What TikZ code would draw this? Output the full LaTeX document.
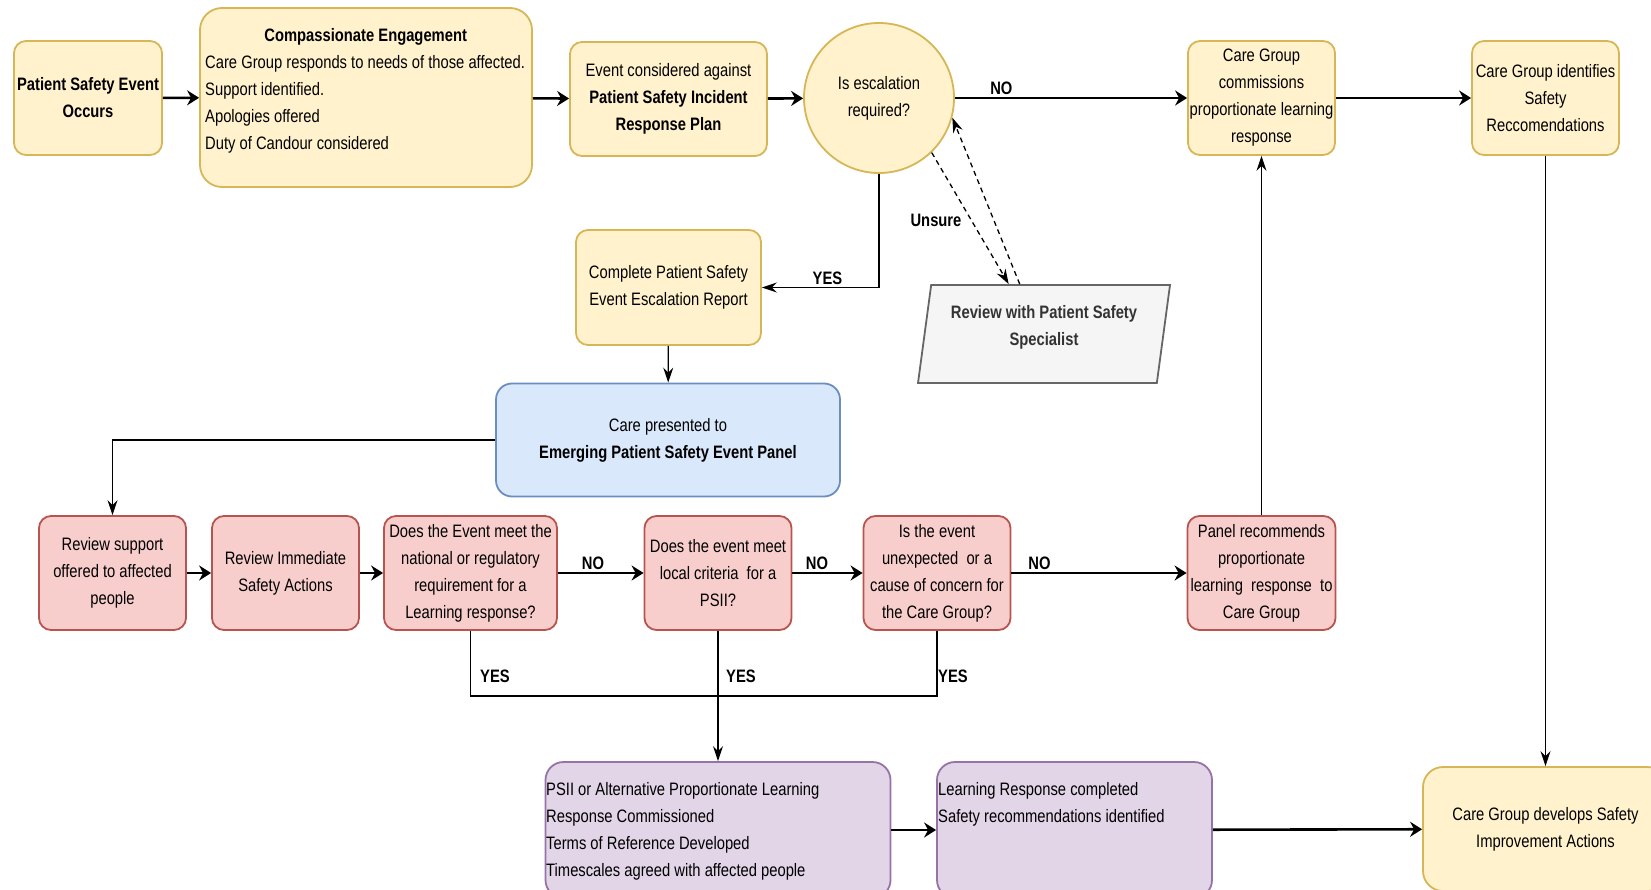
\documentclass[tikz,border=0pt]{standalone}
\usepackage{fontspec}
\setmainfont[FakeStretch=0.82]{Liberation Sans}
\usetikzlibrary{arrows.meta,shapes.geometric}
\definecolor{yfill}{HTML}{FFF2CC}
\definecolor{ydraw}{HTML}{D6B656}
\definecolor{rfill}{HTML}{F8CECC}
\definecolor{rdraw}{HTML}{B85450}
\definecolor{bfill}{HTML}{DAE8FC}
\definecolor{bdraw}{HTML}{6C8EBF}
\definecolor{pfill}{HTML}{E1D5E7}
\definecolor{pdraw}{HTML}{9673A6}
\definecolor{gfill}{HTML}{F5F5F5}
\definecolor{gdraw}{HTML}{666666}
\definecolor{gtext}{HTML}{333333}

\begin{document}
\begin{tikzpicture}[x=1pt, y=-1pt, font=\fontsize{18pt}{27pt}\selectfont,
	box/.style={draw, rounded corners=12pt, line width=1.8pt, align=center, inner sep=0pt},
	yellowbox/.style={box, draw=ydraw, fill=yfill},
	redbox/.style={box, draw=rdraw, fill=rfill, minimum width=147pt, minimum height=114pt},
	purplebox/.style={box, draw=pdraw, fill=pfill, rounded corners=18pt, minimum height=136pt},
	boxtext/.style={anchor=base west, align=flush left, inner sep=0pt},
	lbl/.style={font=\fontsize{18pt}{27pt}\selectfont\bfseries, inner sep=2pt},
	bigarrow/.style={line width=2.6pt, -{Stealth[length=12pt, width=15pt, inset=4pt]}},
	smallarrow/.style={line width=1.3pt, -{Stealth[length=15pt, width=10pt, inset=5pt]}},
	dasharrow/.style={smallarrow, dash pattern=on 5pt off 4pt},
	busline/.style={line width=1.6pt}]
	\useasboundingbox (0,0) rectangle (1651,890);

	\node[yellowbox, minimum width=148pt, minimum height=114pt, font=\fontsize{18pt}{27pt}\selectfont\bfseries] (pse) at (88,98) {Patient Safety Event\\Occurs};
	\node[yellowbox, rounded corners=22pt, minimum width=332pt, minimum height=179pt] (ce) at (366,97.5) {};
	\node[boxtext, text width=340pt] (cetext) at (205,42) {\makebox[321pt][c]{\bfseries Compassionate Engagement}\par Care Group responds to needs of those affected.\par Support identified.\par Apologies offered\par Duty of Candour considered};
	\node[yellowbox, minimum width=197pt, minimum height=114pt] (plan) at (668.5,99) {Event considered against\\\textbf{Patient Safety Incident}\\\textbf{Response Plan}};
	\node[circle, draw=ydraw, fill=yfill, line width=1.8pt, minimum size=150pt, align=center, inner sep=0pt] (esc) at (879,98) {Is escalation\\required?};
	\node[yellowbox, minimum width=147pt, minimum height=114pt] (commis) at (1261.5,98) {Care Group\\commissions\\proportionate learning\\response};
	\node[yellowbox, minimum width=147pt, minimum height=114pt] (ident) at (1545.5,98) {Care Group identifies\\Safety\\Reccomendations};

	\node[yellowbox, minimum width=185pt, minimum height=115pt] (report) at (668.5,287.5) {Complete Patient Safety\\Event Escalation Report};
	\node[trapezium, trapezium left angle=77, trapezium right angle=103, trapezium stretches body, draw=gdraw, fill=gfill, line width=1.8pt, minimum width=252pt, minimum height=98pt, inner sep=0pt, align=center, text=gtext, font=\fontsize{18pt}{27pt}\selectfont\bfseries] (review) at (1044,334) {Review with Patient Safety\\Specialist\\[-10pt]\mbox{}};

	\node[box, draw=bdraw, fill=bfill, rounded corners=16pt, minimum width=344pt, minimum height=113pt] (panel) at (668,440) {Care presented to\\\textbf{Emerging Patient Safety Event Panel}};

	\node[redbox] (support) at (112.5,573) {Review support\\offered to affected\\people};
	\node[redbox] (immediate) at (285.5,573) {Review Immediate\\Safety Actions};
	\node[redbox, minimum width=173pt] (national) at (470.5,573) {Does the Event meet the\\national or regulatory\\requirement for a\\Learning response?};
	\node[redbox] (local) at (718,573) {Does the event meet\\local criteria\ \ for a\\PSII?};
	\node[redbox] (unexpected) at (937,573) {Is the event\\unexpected\ \ or a\\cause of concern for\\the Care Group?};
	\node[redbox, minimum width=148pt] (recommends) at (1261.5,573) {Panel recommends\\proportionate\\learning\ \ response\ \ to\\Care Group};

	\node[purplebox, minimum width=345pt] (psii) at (718,830) {};
	\node[boxtext, text width=344pt] (psiitext) at (546,795) {PSII or Alternative Proportionate Learning\par Response Commissioned\par Terms of Reference Developed\par Timescales agreed with affected people};
	\node[purplebox, minimum width=275pt] (learned) at (1074.5,830) {};
	\node[boxtext, text width=272pt] (learnedtext) at (938,795) {Learning Response completed\par Safety recommendations identified};
	\node[yellowbox, rounded corners=20pt, minimum width=245pt, minimum height=124pt] (develops) at (1545.5,829) {Care Group develops Safety\\Improvement Actions};

	\draw[bigarrow] (pse) -- (ce);
	\draw[bigarrow] (ce) -- (plan);
	\draw[bigarrow] (plan) -- (esc);
	\draw[bigarrow] (esc) -- node[lbl, above, pos=0.2] (noesc) {NO} (commis);
	\draw[bigarrow] (commis) -- (ident);
	\draw[smallarrow, line width=1.6pt] (esc.south) |- node[lbl, above, pos=0.72] (yesesc) {YES} (report.east);
	\draw[dasharrow] (esc.-46) -- ([xshift=-42pt]review.top side);
	\draw[dasharrow] ([xshift=-31pt]review.top side) -- (esc.-15);
	\node[lbl] (unsure) at (936,220) {Unsure};

	\draw[smallarrow] (report) -- (panel);
	\draw[smallarrow] (panel.west) -| (support.north);

	\draw[bigarrow] (support) -- (immediate);
	\draw[bigarrow] (immediate) -- (national);
	\draw[bigarrow] (national) -- node[lbl, above, pos=0.41] (nonat) {NO} (local);
	\draw[bigarrow] (local) -- node[lbl, above, pos=0.35] (noloc) {NO} (unexpected);
	\draw[bigarrow] (unexpected) -- node[lbl, above, pos=0.16] (nounexp) {NO} (recommends);

	\coordinate (yesrow) at (0,696);
	\draw[busline] (national.south) |- (yesrow -| unexpected.south) -- (unexpected.south);
	\draw[smallarrow] (local.south) -- (psii.north);
	\node[lbl] (yesnat) at (495,676) {YES};
	\node[lbl] (yesloc) at (741,676) {YES};
	\node[lbl] (yesunexp) at (953,676) {YES};

	\draw[smallarrow] (recommends) -- (commis);
	\draw[smallarrow] (ident) -- (develops);
	\draw[bigarrow] (psii) -- (learned);
	\draw[bigarrow] (learned) -- (develops);
\end{tikzpicture}
\end{document}
